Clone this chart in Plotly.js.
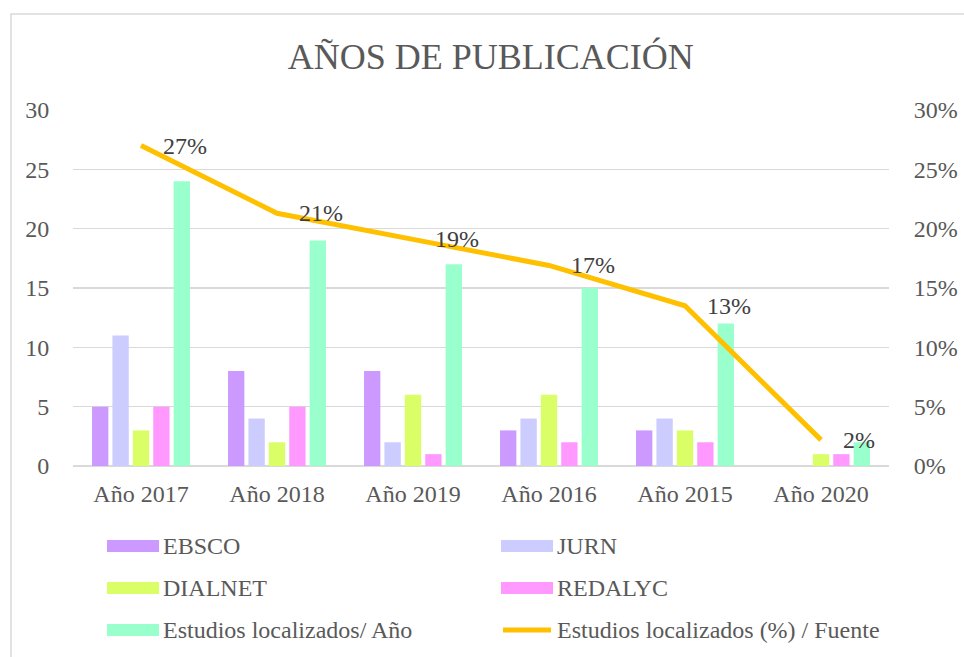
<!DOCTYPE html>
<html>
<head>
<meta charset="utf-8">
<script src="https://cdn.plot.ly/plotly-3.0.1.min.js"></script>
<style>
  html, body { margin: 0; padding: 0; background: #fff; }
  #chart { width: 964px; height: 657px; }
</style>
</head>
<body>
<div id="chart"></div>
<script>
// ---- Data ----
const categories = ['Año 2017', 'Año 2018', 'Año 2019', 'Año 2016', 'Año 2015', 'Año 2020'];
const ebsco   = [5, 8, 8, 3, 3, 0];
const jurn    = [11, 4, 2, 4, 4, 0];
const dialnet = [3, 2, 6, 6, 3, 1];
const redalyc = [5, 5, 1, 2, 2, 1];
const estudiosAnio = [24, 19, 17, 15, 12, 2];
const estudiosPct  = [0.27, 0.213, 0.191, 0.169, 0.135, 0.022];
const pctLabels = ['27%', '21%', '19%', '17%', '13%', '2%'];
const seriesNames = ['EBSCO', 'JURN', 'DIALNET', 'REDALYC', 'Estudios localizados/ Año', 'Estudios localizados (%) / Fuente'];
const chartTitle = 'AÑOS DE PUBLICACIÓN';
const yTicks = [0, 5, 10, 15, 20, 25, 30];
const y2Ticks = [0, 0.05, 0.10, 0.15, 0.20, 0.25, 0.30];

// ---- Styles ----
const colors = ['#CC99FF', '#CCCCFF', '#DAFF66', '#FF99FF', '#99FFCC', '#FFC000'];
const FONT = 'Liberation Serif, Times New Roman, serif';
const TXT = '#595959';
const GRID = '#D9D9D9';

// plot area in pixels
const L = 73, R = 889, T = 110, B = 466, W = 964, H = 657;
const px = x => (x - L) / (R - L);
const py = y => (B - y) / (B - T);

const barSeries = [ebsco, jurn, dialnet, redalyc, estudiosAnio];
const traces = barSeries.map((vals, i) => ({
  type: 'bar', x: categories, y: vals, name: seriesNames[i],
  marker: { color: colors[i] }, yaxis: 'y', showlegend: false
}));
traces.push({
  type: 'scatter', mode: 'lines', x: categories, y: estudiosPct, name: seriesNames[5],
  yaxis: 'y2', line: { color: colors[5], width: 5 }, showlegend: false
});

const annotations = categories.map((c, i) => ({
  x: c, y: estudiosPct[i], xref: 'x', yref: 'y2', text: pctLabels[i],
  showarrow: false, xanchor: 'left', yanchor: 'middle', xshift: 20, yshift: 0,
  font: { family: FONT, size: 24, color: '#404040' }
}));

// custom legend (two columns, three rows)
const shapes = [];
const legCols = [{ sx0: 107, sx1: 159, tx: 161 }, { sx0: 501, sx1: 553, tx: 555 }];
const legRows = [546, 588, 630];
seriesNames.forEach((n, i) => {
  const col = legCols[i % 2], rowY = legRows[Math.floor(i / 2)];
  if (i < 5) {
    shapes.push({ type: 'rect', xref: 'paper', yref: 'paper',
      x0: px(col.sx0), x1: px(col.sx1), y0: py(rowY + 6), y1: py(rowY - 6),
      fillcolor: colors[i], line: { width: 0 } });
  } else {
    shapes.push({ type: 'line', xref: 'paper', yref: 'paper',
      x0: px(col.sx0 + 2), x1: px(col.sx1 - 2), y0: py(rowY), y1: py(rowY),
      line: { color: colors[i], width: 5 } });
  }
  annotations.push({ x: px(col.tx), y: py(rowY), xref: 'paper', yref: 'paper', text: n,
    showarrow: false, xanchor: 'left', yanchor: 'middle',
    font: { family: FONT, size: 24, color: TXT } });
});
// chart frame (left and top edges visible)
shapes.push({ type: 'rect', xref: 'paper', yref: 'paper',
  x0: px(11), x1: px(1100), y0: py(800), y1: py(14),
  line: { color: GRID, width: 1.5 }, fillcolor: 'rgba(0,0,0,0)', layer: 'below' });

const layout = {
  width: W, height: H,
  margin: { l: L, r: W - R, t: T, b: H - B, pad: 0 },
  paper_bgcolor: '#fff', plot_bgcolor: '#fff',
  font: { family: FONT, size: 24, color: TXT },
  title: { text: chartTitle, font: { family: FONT, size: 36, color: TXT },
    x: 0.509, xref: 'container', xanchor: 'center', y: 1 - 56 / H, yref: 'container', yanchor: 'middle' },
  barmode: 'group', bargap: 0.25, bargroupgap: 0.2,
  showlegend: false,
  xaxis: { type: 'category', tickfont: { family: FONT, size: 24, color: TXT },
    showgrid: false, showline: false, ticks: 'outside', ticklen: 6, tickcolor: 'rgba(0,0,0,0)' },
  yaxis: { range: [0, 30], tickvals: yTicks, tickfont: { family: FONT, size: 24, color: TXT },
    showgrid: true, gridcolor: GRID, gridwidth: 1.5, zeroline: true, zerolinecolor: GRID, zerolinewidth: 1.5,
    showline: false, ticks: 'outside', ticklen: 18, tickcolor: 'rgba(0,0,0,0)' },
  yaxis2: { range: [0, 0.30], overlaying: 'y', side: 'right', tickvals: y2Ticks, tickformat: '.0%',
    tickfont: { family: FONT, size: 24, color: TXT }, showgrid: false, zeroline: false, showline: false,
    ticks: 'outside', ticklen: 19, tickcolor: 'rgba(0,0,0,0)' },
  annotations: annotations,
  shapes: shapes
};

Plotly.newPlot('chart', traces, layout, { staticPlot: true, displayModeBar: false });
</script>
</body>
</html>
